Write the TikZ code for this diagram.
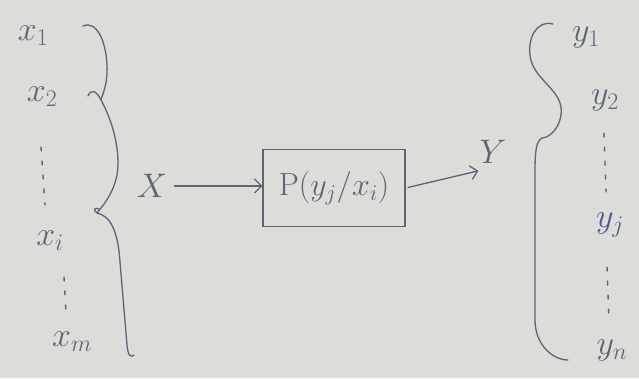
\RequirePackage{fix-cm}
\documentclass[tikz,border=0pt]{standalone}
\usetikzlibrary{arrows.meta,positioning}
\definecolor{paper}{HTML}{DCDCD9}
\definecolor{ink}{HTML}{5B6573}
\definecolor{inkblue}{HTML}{4A5C8C}
\begin{document}
\begin{tikzpicture}[x=1pt,y=-1pt,lbl/.style={text=ink,font=\fontsize{34}{38}\selectfont,inner sep=1pt},chan/.style={draw=ink,line width=1.3pt,minimum width=142pt,minimum height=77pt,font=\fontsize{32}{36}\selectfont,text=ink},arr/.style={-{Straight Barb[length=7pt,width=14pt]},line width=1.3pt,draw=ink},brc/.style={draw=ink,line width=1.3pt,line cap=round,line join=round},vdots/.style={draw=ink,line width=1.4pt,dash pattern=on 4pt off 10pt,line cap=round}]
\fill[paper](0,0)rectangle(639,378);\useasboundingbox(0,0)rectangle(639,378);
% inputs
\node[lbl] (x1) at (33,36) {$x_1$};
\node[lbl] (x2) at (42,97) {$x_2$};
\node[lbl] (xi) at (50,241) {$x_i$};
\node[lbl] (xm) at (72,342) {$x_m$};
\coordinate (xa) at (41,147);\coordinate (xb) at (45,205);\coordinate (xc) at (64,277);\coordinate (xd) at (66,312);
\draw[vdots](xa)--(xb);\draw[vdots](xc)--(xd);
\draw[brc](83,26)..controls(97,20)and(106,42)..(107,65)..controls(108,85)and(102,95)..(101,100)..controls(112,120)and(121,150)..(117,175)..controls(113,195)and(101,208)..(97,213)..controls(111,216)and(118,232)..(120,262)--(127,345)..controls(128,356)and(131,358)..(134,355);
\draw[brc](88,96)..controls(91,89)and(96,90)..(101,100);\draw[brc](97,213)..controls(93,210)and(94,207)..(99,209);
% channel
\node[lbl] (X) at (152,186) {$X$};
\node[chan] (chan) at (334,188) {$\mathrm{P}(y_j/x_i)$};
\node[lbl] (Y) at (493,152) {$Y$};
\draw[arr,shorten <=6pt](X)--(X-|chan.west);\draw[arr,shorten <=2pt](chan.east)--([xshift=0pt,yshift=-6pt]Y.south west);
% outputs
\node[lbl] (y1) at (586,37) {$y_1$};
\node[lbl] (y2) at (605,100) {$y_2$};
\node[lbl,text=inkblue] (yj) at (610,225) {$y_j$};
\node[lbl] (yn) at (612,350) {$y_n$};
\coordinate (ya) at (604,133);\coordinate (yb) at (606,192);\coordinate (yc) at (607,267);\coordinate (yd) at (609,322);
\draw[vdots](ya)--(yb);\draw[vdots](yc)--(yd);
\draw[brc](553,24)..controls(535,20)and(528,40)..(530,55)..controls(532,80)and(565,90)..(561,115)..controls(558,133)and(546,138)..(542,138)..controls(536,141)and(535,152)..(535,172)--(535,320)..controls(535,345)and(553,360)..(568,360);
\end{tikzpicture}
\end{document}
